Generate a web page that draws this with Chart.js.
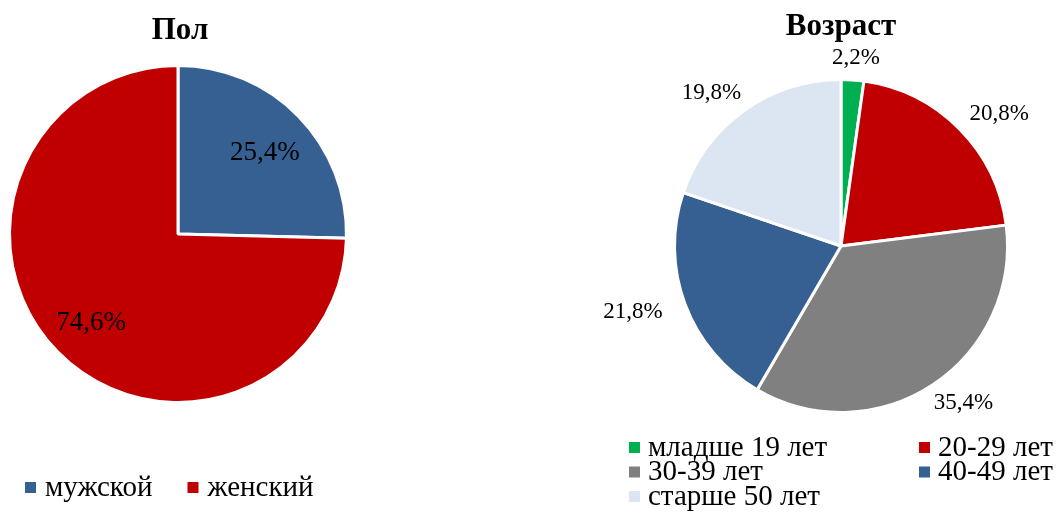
<!DOCTYPE html>
<html>
<head>
<meta charset="utf-8">
<script src="https://cdn.jsdelivr.net/npm/chart.js@4.4.1/dist/chart.umd.min.js"></script>
<style>
  html, body { margin: 0; padding: 0; background: #fff; }
  #wrap { position: relative; width: 1057px; height: 520px; overflow: hidden; }
  #c1 { position: absolute; left: 0; top: 0; }
  #c2 { position: absolute; left: 560px; top: 0; }
</style>
</head>
<body>
<div id="wrap">
  <canvas id="c1" width="380" height="520"></canvas>
  <canvas id="c2" width="497" height="520"></canvas>
</div>
<script>
// ---- data ----
const genderTitle = "Пол";
const genderLabels = ["мужской", "женский"];
const genderValues = [25.4, 74.6];
const genderColors = ["#376092", "#C00000"];

const ageTitle = "Возраст";
const ageLabels = ["младше 19 лет", "20-29 лет", "30-39 лет", "40-49 лет", "старше 50 лет"];
const ageValues = [2.2, 20.8, 35.4, 21.8, 19.8];
const ageColors = ["#00B050", "#C00000", "#808080", "#376092", "#DCE6F2"];

const FONT = '"Liberation Serif", "Times New Roman", serif';
const fmt = v => v.toFixed(1).replace('.', ',') + '%';

function titlePlugin(text, cx, cy, size) {
  return {
    id: 'ttl',
    afterDraw(chart) {
      const ctx = chart.ctx;
      ctx.save();
      ctx.font = 'bold ' + size + 'px ' + FONT;
      ctx.fillStyle = '#000';
      ctx.textAlign = 'center';
      ctx.textBaseline = 'middle';
      ctx.fillText(text, cx, cy);
      ctx.restore();
    }
  };
}

// inside labels (left chart)
const insideLabels = {
  id: 'inLbl',
  afterDatasetsDraw(chart) {
    const ctx = chart.ctx;
    const meta = chart.getDatasetMeta(0);
    const vals = chart.data.datasets[0].data;
    ctx.save();
    ctx.font = '27px ' + FONT;
    ctx.fillStyle = '#000';
    ctx.textAlign = 'center';
    ctx.textBaseline = 'middle';
    meta.data.forEach((arc, i) => {
      const p = arc.getProps(['x', 'y', 'startAngle', 'endAngle', 'outerRadius'], true);
      const mid = (p.startAngle + p.endAngle) / 2;
      const r = p.outerRadius * 0.72;
      ctx.fillText(fmt(vals[i]), p.x + Math.cos(mid) * r, p.y + Math.sin(mid) * r + 4);
    });
    ctx.restore();
  }
};

// outside labels (right chart)
const outsideLabels = {
  id: 'outLbl',
  afterDatasetsDraw(chart) {
    const ctx = chart.ctx;
    const meta = chart.getDatasetMeta(0);
    const vals = chart.data.datasets[0].data;
    ctx.save();
    ctx.font = '23px ' + FONT;
    ctx.fillStyle = '#000';
    ctx.textAlign = 'center';
    ctx.textBaseline = 'middle';
    const h = 18, gapX = 26, gapY = 13;
    meta.data.forEach((arc, i) => {
      const p = arc.getProps(['x', 'y', 'startAngle', 'endAngle', 'outerRadius'], true);
      const mid = (p.startAngle + p.endAngle) / 2;
      const t = fmt(vals[i]);
      const w = ctx.measureText(t).width;
      const c = Math.cos(mid), s = Math.sin(mid);
      const cx = p.x + c * (p.outerRadius + gapX) + c * w / 2;
      const cy = p.y + s * (p.outerRadius + gapY) + s * h / 2;
      ctx.fillText(t, cx, cy);
    });
    ctx.restore();
  }
};

// horizontal legend (left chart)
const legendRow = {
  id: 'legRow',
  afterDraw(chart) {
    const ctx = chart.ctx;
    const labels = chart.data.labels;
    const colors = chart.data.datasets[0].backgroundColor;
    ctx.save();
    ctx.font = '29px ' + FONT;
    ctx.textBaseline = 'middle';
    ctx.textAlign = 'left';
    let x = 25;
    const y = 487;
    labels.forEach((lab, i) => {
      ctx.fillStyle = colors[i];
      ctx.fillRect(x, y - 5, 11, 11);
      ctx.fillStyle = '#000';
      ctx.fillText(lab, x + 20, y + 1);
      x += 20 + ctx.measureText(lab).width + 35;
    });
    ctx.restore();
  }
};

// two-column legend (right chart)
const legendGrid = {
  id: 'legGrid',
  afterDraw(chart) {
    const ctx = chart.ctx;
    const labels = chart.data.labels;
    const colors = chart.data.datasets[0].backgroundColor;
    ctx.save();
    ctx.font = '29px ' + FONT;
    ctx.textBaseline = 'middle';
    ctx.textAlign = 'left';
    const colX = [69, 359];
    const y0 = 447, dy = 24.5;
    labels.forEach((lab, i) => {
      const x = colX[i % 2];
      const y = y0 + Math.floor(i / 2) * dy;
      ctx.fillStyle = colors[i];
      ctx.fillRect(x, y - 5, 11, 11);
      ctx.fillStyle = '#000';
      ctx.fillText(lab, x + 19, y + 1);
    });
    ctx.restore();
  }
};

const common = {
  responsive: false,
  animation: false,
  events: [],
  plugins: { legend: { display: false }, tooltip: { enabled: false }, title: { display: false } }
};

new Chart(document.getElementById('c1'), {
  type: 'pie',
  data: {
    labels: genderLabels,
    datasets: [{ data: genderValues, backgroundColor: genderColors, borderColor: '#fff', borderWidth: 3 }]
  },
  options: Object.assign({}, common, {
    layout: { padding: { left: 8, right: 32, top: 64, bottom: 116 } }
  }),
  plugins: [insideLabels, legendRow, titlePlugin(genderTitle, 180, 31, 31)]
});

new Chart(document.getElementById('c2'), {
  type: 'pie',
  data: {
    labels: ageLabels,
    datasets: [{ data: ageValues, backgroundColor: ageColors, borderColor: '#fff', borderWidth: 3 }]
  },
  options: Object.assign({}, common, {
    layout: { padding: { left: 113, right: 48, top: 78, bottom: 106 } }
  }),
  plugins: [outsideLabels, legendGrid, titlePlugin(ageTitle, 281, 27, 31)]
});
</script>
</body>
</html>
